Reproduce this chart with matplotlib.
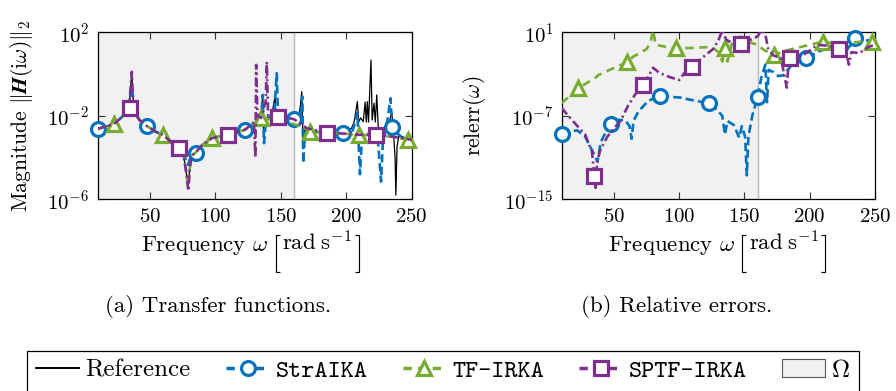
import numpy as np
import matplotlib
matplotlib.use("Agg")
import matplotlib.pyplot as plt
from matplotlib.lines import Line2D
from matplotlib.patches import Patch
from matplotlib.ticker import NullLocator

plt.rcParams['font.family'] = 'serif'
plt.rcParams['font.serif'] = ['cmr10']
plt.rcParams['mathtext.fontset'] = 'cm'
plt.rcParams['axes.formatter.use_mathtext'] = True
plt.rcParams['axes.unicode_minus'] = True
plt.rcParams['lines.scale_dashes'] = False

# ---------------- data (log10 values) ----------------
omega_region = 160.0

# (a) transfer functions: log10 ||H(i w)||_2
ref_x = [10, 16, 22.5, 28, 32, 34.5, 35.5, 36.2, 37, 38, 42, 47.5, 54, 60, 66, 72.5, 76, 78, 79.2,
         80.5, 82, 85, 90, 97.5, 104, 110, 116, 122.5, 128, 133, 135, 136.2, 136.8, 137.5, 140, 143,
         145.6, 146.5, 147.5, 152, 156, 160, 163, 165, 166, 167, 168, 172.5, 180, 185, 190, 197.5,
         204, 206, 208.5, 209.5, 211, 213, 214.4, 215.3, 216.1, 217, 218.9, 219.8, 221.2, 222.2,
         223.3, 224.5, 226, 229, 232, 234.7, 236, 237.3, 237.9, 238.8, 240, 243, 247.5, 250]
ref_mag = [-2.63, -2.52, -2.39, -2.1, -1.8, -1.3, -0.5, 0.1, -1.0, -1.8, -2.2, -2.48, -2.75, -2.91,
           -3.25, -3.55, -4.0, -4.8, -5.5, -4.5, -3.9, -3.76, -3.4, -3.07, -2.98, -2.91, -2.8, -2.67,
           -2.45, -2.2, -2.11, -1.0, -2.6, -2.3, -2.1, -2.0, -1.08, -2.3, -2.04, -2.05, -2.1, -2.16,
           -2.25, -1.5, -0.84, -3.2, -2.7, -2.76, -2.8, -2.8, -2.8, -2.8, -2.6, -2.3, -1.32, -2.3,
           -2.1, -2.28, -1.35, -2.3, -1.32, -2.3, 0.67, -2.2, -1.4, -2.3, -1.0, -2.6, -2.9, -2.8,
           -2.6, -1.8, -2.7, -4.0, -5.8, -3.5, -3.0, -3.0, -3.15, -3.2]

str_x = [10, 16, 22.5, 28, 32, 34.5, 35.5, 36.2, 37, 38, 42, 47.5, 54, 60, 66, 72.5, 76, 78, 79.2,
         80.5, 82, 85, 90, 97.5, 104, 110, 116, 122.5, 128, 133, 135, 136.2, 137.2, 138.5, 140, 145,
         146.9, 148, 150, 155, 160, 165, 166.5, 167.2, 168.5, 172.5, 185, 197.5, 205, 208.5, 210.5,
         212, 215, 220, 224, 226.6, 228, 231, 233.8, 235, 238, 242, 250]
str_mag = [-2.63, -2.52, -2.39, -2.1, -1.8, -1.4, -1.0, -0.6, -1.2, -1.8, -2.2, -2.48, -2.75, -2.91,
           -3.25, -3.55, -3.9, -4.2, -4.35, -4.1, -3.85, -3.76, -3.4, -3.07, -2.98, -2.91, -2.8,
           -2.67, -2.45, -2.2, -2.11, -1.0, -3.31, -2.3, -2.1, -1.9, 0.04, -2.3, -2.1, -2.1, -2.16,
           -1.9, -1.08, -4.27, -2.8, -2.76, -2.8, -2.8, -2.7, -1.86, -4.8, -3.0, -2.85, -2.85, -3.0,
           -5.15, -3.2, -2.4, -1.16, -2.56, -2.8, -3.0, -3.15]

tf_x = [10, 16, 22.5, 28, 32, 34.5, 36, 38, 42, 47.5, 54, 60, 66, 72.5, 76, 78, 79, 80.5, 82, 85,
        90, 97.5, 104, 110, 116, 122.5, 128, 133, 135, 145, 155, 165, 172.5, 185, 197.5, 210,
        222.5, 235, 247.5, 250]
tf_mag = [-2.63, -2.52, -2.39, -2.1, -1.85, -1.6, -1.5, -1.85, -2.2, -2.48, -2.75, -2.91, -3.25,
          -3.55, -4.0, -4.8, -5.4, -4.5, -3.9, -3.76, -3.4, -3.07, -2.98, -2.91, -2.8, -2.67, -2.45,
          -2.2, -2.11, -2.2, -2.3, -2.5, -2.76, -2.8, -2.85, -2.91, -2.95, -3.0, -3.15, -3.17]

sp_x = [10, 16, 22.5, 28, 32, 34.5, 35.5, 36.2, 37, 38, 42, 47.5, 54, 60, 66, 72.5, 76, 78, 79.4,
        80.5, 82, 85, 90, 97.5, 104, 110, 116, 122.5, 127, 129.5, 130.6, 131.2, 132.2, 135, 138.5,
        139.3, 140.3, 143, 147.5, 155, 160, 170, 185, 197.5, 210, 222.5, 235, 250]
sp_mag = [-2.63, -2.52, -2.39, -2.1, -1.8, -1.3, -0.5, 0.11, -1.0, -1.8, -2.2, -2.48, -2.75, -2.91,
          -3.25, -3.55, -4.0, -4.8, -5.6, -4.5, -3.9, -3.76, -3.4, -3.07, -2.98, -2.91, -2.8, -2.67,
          -2.45, -2.3, -4.0, 0.44, -2.0, -2.1, -1.3, 0.6, -2.0, -2.0, -2.04, -2.1, -2.16, -2.6,
          -2.8, -2.85, -2.91, -2.91, -3.0, -3.15]

# marker positions (frequency) and marker values, panel (a)
str_mk_x = [10, 47.5, 85, 122.5, 160, 197.5, 235]
str_mk_mag = [-2.63, -2.48, -3.76, -2.67, -2.16, -2.80, -2.56]
tf_mk_x = [22.5, 60, 97.5, 135, 172.5, 210, 247.5]
tf_mk_mag = [-2.39, -2.91, -3.07, -2.11, -2.76, -2.91, -3.15]
sp_mk_x = [35, 72.5, 110, 147.5, 185, 222.5]
sp_mk_mag = [-1.64, -3.55, -2.91, -2.04, -2.80, -2.91]

# (b) relative errors: log10 relerr
str_err_x = [10, 16, 22, 28, 34, 37.4, 40, 47, 53, 58.5, 62, 63.6, 65, 68.7, 76, 85, 95, 100.6, 110,
             122.5, 128, 133, 135, 137, 142, 146, 148, 150.5, 151.8, 153, 156, 160, 163, 166, 167.3,
             168.5, 172, 176, 180, 185, 190, 199, 206, 215, 222, 226, 230, 237.5, 242, 250]
str_err = [-8.74, -8.5, -8.4, -9.0, -10.5, -11.4, -9.5, -7.78, -7.4, -7.4, -8.0, -9.2, -7.5, -6.6,
           -5.6, -5.07, -5.2, -5.25, -5.5, -5.8, -6.3, -7.0, -8.8, -7.5, -7.9, -9.1, -8.0, -9.0,
           -12.7, -9.0, -7.0, -5.23, -3.3, -2.1, -5.7, -2.6, -2.8, -3.2, -3.1, -2.3, -1.9, -1.49,
           -0.86, -0.5, -0.3, -1.2, -0.4, 0.43, 0.2, 0.3]

tf_err_x = [10, 16, 22.5, 30, 36.8, 38, 45, 52, 60, 65, 70, 75, 78, 80, 82, 90, 97.5, 110, 125, 131,
            133, 135, 137, 140, 143, 147, 150, 155, 160, 165, 172.5, 180, 190, 200, 210, 220, 230,
            240, 247.5, 250]
tf_err = [-5.8, -5.1, -4.36, -3.8, -3.25, -3.1, -2.7, -2.3, -1.87, -1.3, -1.0, -0.6, 0.0, 1.2,
          -0.2, -0.4, -0.53, -0.5, -0.4, -1.0, -1.8, -0.53, -1.8, -0.2, 0.2, 0.6, 0.3, 0.0, -0.2,
          -0.7, -1.17, -0.8, -0.5, -0.2, 0.1, -0.1, 0.0, 0.1, 0.04, 0.0]

sp_err_x = [10, 15, 20, 25, 28, 31, 33, 35, 36, 37, 39.5, 45, 50, 55, 61, 66, 72.5, 76, 80, 85, 93,
            100, 104, 110, 118, 126, 130, 133, 136, 140, 147.5, 155, 160, 163, 166, 168, 172, 178,
            182.4, 184, 185, 195, 206, 215, 222.5, 228, 230, 232, 238, 245, 250]
sp_err = [-6.25, -7.0, -7.7, -8.4, -8.8, -9.8, -10.2, -12.73, -13.9, -11.5, -10.3, -9.0, -8.2, -7.5,
          -6.0, -5.0, -4.05, -3.3, -2.4, -2.9, -3.3, -3.57, -2.9, -2.30, -1.4, -0.6, 0.2, 1.2, 0.3,
          0.0, -0.15, 0.3, 0.6, 1.2, 0.8, -0.5, -1.2, -1.5, -4.3, -1.6, -1.49, -1.2, -0.2, -0.3,
          -0.6, -1.0, -2.1, -0.9, -1.0, -0.4, -0.2]

str_mk_err = [-8.74, -7.78, -5.07, -5.80, -5.23, -1.49, 0.43]
tf_mk_err = [-4.36, -1.87, -0.53, -0.53, -1.17, 0.10, 0.04]
sp_mk_err = [-12.73, -4.05, -2.30, -0.15, -1.49, -0.60]

labels = ['Reference', 'StrAIKA', 'TF-IRKA', 'SPTF-IRKA', r'$\Omega$']
xlabel_main = r'Frequency $\omega$'
xlabel_unit = r'$\mathrm{rad}\;\mathrm{s}^{-1}$'

# ---------------- styling ----------------
C_STR = '#0072BD'
C_TF = '#77AC30'
C_SP = '#7E2F8E'
C_SHADE = '#f1f1f1'
LW = 1.9
MS = 10
MEW = 2.3
DASH_STR = (6, 3)
DASH_TF = (6, 4)
DASH_SP = (6, 2.5, 1.5, 2.5)

W, H = 896, 391
fig = plt.figure(figsize=(W / 100, H / 100), dpi=100)


def px_axes(x0, x1, y0, y1):
    return fig.add_axes([x0 / W, 1 - y1 / H, (x1 - x0) / W, (y1 - y0) / H])


ax1 = px_axes(97.5, 411.7, 32.3, 199.3)
ax2 = px_axes(561.7, 875.0, 32.3, 199.3)

for ax in (ax1, ax2):
    ax.set_yscale('log')
    ax.set_xlim(10, 250)
    ax.axvspan(10, omega_region, color=C_SHADE, zorder=0, lw=0)
    ax.axvline(omega_region, color='#b5b5b5', lw=1.0, zorder=0.5)
    ax.set_xticks([50, 100, 150, 200, 250])
    ax.yaxis.set_minor_locator(NullLocator())
    ax.xaxis.set_minor_locator(NullLocator())
    ax.tick_params(direction='in', top=True, right=True, length=5, width=0.8,
                   labelsize=15, pad=6, colors='#333333', labelcolor='black')
    for s in ax.spines.values():
        s.set_linewidth(0.9)
        s.set_color('black')
        s.set_zorder(2.5)


def p(v):
    return 10.0 ** np.asarray(v, dtype=float)


MK = dict(ls='none', ms=MS, mew=MEW, mfc='white', clip_on=False)

# panel (a)
ax1.plot(ref_x, p(ref_mag), color='black', lw=0.9, zorder=2)
ax1.plot(str_x, p(str_mag), color=C_STR, lw=LW, dashes=DASH_STR, zorder=3)
ax1.plot(str_mk_x, p(str_mk_mag), marker='o', mec=C_STR, zorder=3.5, **MK)
ax1.plot(tf_x, p(tf_mag), color=C_TF, lw=LW, dashes=DASH_TF, zorder=4)
ax1.plot(tf_mk_x, p(tf_mk_mag), marker='^', mec=C_TF, zorder=4.5, **MK)
ax1.plot(sp_x, p(sp_mag), color=C_SP, lw=LW, dashes=DASH_SP, zorder=5)
ax1.plot(sp_mk_x, p(sp_mk_mag), marker='s', mec=C_SP, zorder=5.5, **MK)
ax1.set_ylim(1e-6, 1e2)
ax1.set_yticks([1e-6, 1e-2, 1e2])
ax1.set_ylabel(r'Magnitude $\|\mathbfit{H}(\mathrm{i}\omega)\|_2$', fontsize=15.5, va='center')
ax1.yaxis.set_label_coords(-0.242, 0.5)

# panel (b)
ax2.plot(str_err_x, p(str_err), color=C_STR, lw=LW, dashes=DASH_STR, zorder=3)
ax2.plot(str_mk_x, p(str_mk_err), marker='o', mec=C_STR, zorder=3.5, **MK)
ax2.plot(tf_err_x, p(tf_err), color=C_TF, lw=LW, dashes=DASH_TF, zorder=4)
ax2.plot(tf_mk_x, p(tf_mk_err), marker='^', mec=C_TF, zorder=4.5, **MK)
ax2.plot(sp_err_x, p(sp_err), color=C_SP, lw=LW, dashes=DASH_SP, zorder=5)
ax2.plot(sp_mk_x, p(sp_mk_err), marker='s', mec=C_SP, zorder=5.5, **MK)
ax2.set_ylim(1e-15, 1e1)
ax2.set_yticks([1e-15, 1e-7, 1e1])
ax2.set_ylabel(r'$\mathrm{relerr}(\omega)$', fontsize=15.5, va='center')
ax2.yaxis.set_label_coords(-0.277, 0.5)

# x labels: text with tall square brackets drawn as thin strokes
renderer = fig.canvas.get_renderer()
XFS = 16.5


def xlabel_with_brackets(cx, base):
    t1 = fig.text(0, 0, xlabel_main, fontsize=XFS, va='baseline', ha='left')
    t2 = fig.text(0, 0, xlabel_unit, fontsize=XFS, va='baseline', ha='left')
    w1 = t1.get_window_extent(renderer).width
    w2 = t2.get_window_extent(renderer).width
    g1, bw, g2 = 6.0, 5.0, 2.5
    total = w1 + g1 + bw + g2 + w2 + g2 + bw
    x0 = cx - total / 2
    t1.set_position((x0 / W, 1 - base / H))
    xb1 = x0 + w1 + g1
    xu = xb1 + bw + g2
    t2.set_position((xu / W, 1 - base / H))
    xb2 = xu + w2 + g2 + bw
    top, bot = base - 16.5, base + 20.5
    for xv, sgn in ((xb1 + 0.6, 1), (xb2 - 0.6, -1)):
        xs = [xv + sgn * (bw - 0.5), xv, xv, xv + sgn * (bw - 0.5)]
        ys = [top, top, bot, bot]
        fig.add_artist(Line2D([x / W for x in xs], [1 - y / H for y in ys],
                              transform=fig.transFigure, color='black', lw=0.85,
                              solid_joinstyle='miter', solid_capstyle='butt'))


xlabel_with_brackets(250.7, 251.0)
xlabel_with_brackets(716.8, 251.0)

fig.text(218.3 / W, 1 - 306.7 / H, '(a) Transfer functions.', ha='center', va='center', fontsize=16.5)
fig.text(677 / W, 1 - 306.7 / H, '(b) Relative errors.', ha='center', va='center', fontsize=16.5)

# legend
LDASH = (6, 4.5)
handles = [
    Line2D([], [], color='black', lw=1.4),
    Line2D([], [], color=C_STR, lw=LW + 0.6, dashes=LDASH, marker='o', ms=MS, mew=MEW, mfc='white', mec=C_STR),
    Line2D([], [], color=C_TF, lw=LW + 0.6, dashes=LDASH, marker='^', ms=MS, mew=MEW, mfc='white', mec=C_TF),
    Line2D([], [], color=C_SP, lw=LW + 0.6, dashes=LDASH, marker='s', ms=MS, mew=MEW, mfc='white', mec=C_SP),
    Patch(facecolor=C_SHADE, edgecolor='#555555', lw=0.8),
]
leg = fig.legend(handles, labels, loc='upper left', bbox_to_anchor=(27.3 / W, 1 - 350.7 / H),
                 ncol=5, fontsize=18, frameon=True, fancybox=False, edgecolor='black',
                 framealpha=1, handlelength=1.72, handletextpad=0.25, columnspacing=1.42,
                 borderpad=0.35, borderaxespad=0)
leg.get_frame().set_linewidth(0.9)
for t in leg.get_texts()[1:4]:
    t.set_family('cmtt10')

fig.savefig('out.png', dpi=100)
